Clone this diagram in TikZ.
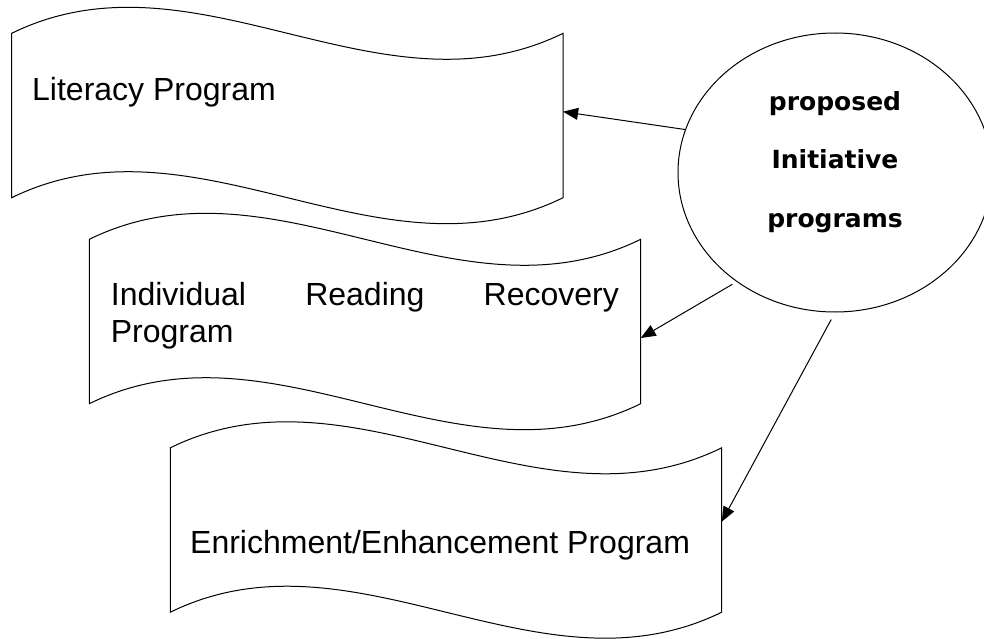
\documentclass[tikz,border=0pt]{standalone}
\usepackage{fontspec}
\setmainfont{Liberation Sans}
\newfontfamily\ovalfont{DejaVu Sans}
\usetikzlibrary{shapes.geometric,arrows.meta}

\tikzset{
  wavebox/.style={minimum width=551pt, minimum height=164pt, inner sep=0pt},
  wave/.style={line width=1pt, line join=miter},
  boxtext/.style={font=\fontsize{32}{37}\selectfont, inner sep=0pt},
  ovaltext/.style={font=\ovalfont\bfseries\fontsize{25}{58.5}\selectfont,
    align=center, inner sep=0pt},
  link/.style={line width=1pt, -{Triangle[length=15pt,width=12pt]}}
}

\begin{document}
\begin{tikzpicture}[x=1pt,y=-1pt]
  \clip (0,0) rectangle (984,639);
  \foreach \nm/\cx/\cy in {lit/287.4/115.5, ind/365/321.5, enr/446/530}
    { \node[wavebox] (\nm) at (\cx,\cy) {};
      \draw[wave] (\nm.north west) .. controls +(183.7,-90) and +(-183.7,90) .. (\nm.north east)
        -- (\nm.south east) .. controls +(-183.7,90) and +(183.7,-90) .. (\nm.south west) -- cycle; }
  \node[draw, ellipse, line width=1pt, minimum width=314pt,
    minimum height=279pt] (init) at (835,172.5) {};

  \node[boxtext, anchor=base west] (littxt) at (32,101) {Literacy Program};
  \node[boxtext, anchor=base west, text width=508pt, align=left] (indtxt)
    at (110.7,305.7) {Individual\hfill Reading\hfill Recovery\\Program};
  \node[boxtext, anchor=base west] (enrtxt) at (190,553)
    {Enrichment/Enhancement Program};
  \node[ovaltext, anchor=base] (inittxt) at (835,227)
    {proposed\\Initiative\\programs};

  \draw[link] (init.164) -- ([yshift=3.8pt]lit.east);
  \draw[link, shorten <=5pt] (init.228) -- ([yshift=-16.5pt]ind.east);
  \draw[link, shorten <=8pt] (init.south) -- ([yshift=8.3pt]enr.east);
\end{tikzpicture}
\end{document}
